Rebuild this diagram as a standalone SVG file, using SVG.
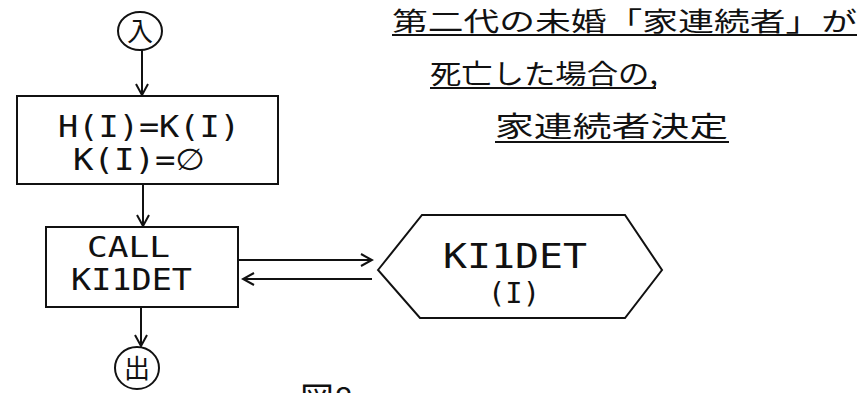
<svg xmlns="http://www.w3.org/2000/svg" width="865" height="393" viewBox="0 0 865 393">
<style>
.s{fill:none;stroke:#111;stroke-width:2}
.t{font-family:"DejaVu Sans Mono","Liberation Mono",monospace;fill:#111}
.j{font-family:"Noto Sans CJK JP","Noto Sans CJK SC",sans-serif;fill:#111}
.u{stroke:#111;stroke-width:2}
</style>
<defs>
<marker id="a" markerWidth="14" markerHeight="14" refX="12" refY="7" orient="auto" markerUnits="userSpaceOnUse">
<polyline points="1,1 12,7 1,13" fill="none" stroke="#111" stroke-width="2"/>
</marker>
</defs>
<rect width="865" height="393" fill="#fff"/>
<g id="title">
<text class="j" x="392" y="31" font-size="26" textLength="465" lengthAdjust="spacingAndGlyphs">第二代の未婚「家連続者」が</text>
<line class="u" x1="392" y1="35" x2="857" y2="35"/>
<text class="j" x="430" y="84" font-size="27" textLength="228" lengthAdjust="spacingAndGlyphs">死亡した場合の,</text>
<line class="u" x1="430" y1="88" x2="656" y2="88"/>
<text class="j" x="495" y="137" font-size="28" textLength="233" lengthAdjust="spacingAndGlyphs">家連続者決定</text>
<line class="u" x1="495" y1="142" x2="729" y2="142"/>
</g>
<g id="start">
<ellipse class="s" cx="140" cy="31" rx="22" ry="19"/>
<text class="j" x="140" y="41" font-size="26" text-anchor="middle">入</text>
</g>
<g id="assign">
<rect class="s" x="17" y="96" width="261" height="88"/>
<text class="t" x="58" y="137" font-size="30" textLength="182" lengthAdjust="spacingAndGlyphs">H(I)=K(I)</text>
<text class="t" x="73" y="170" font-size="30" textLength="132" lengthAdjust="spacingAndGlyphs">K(I)=<tspan font-family="DejaVu Sans,sans-serif" font-size="30">∅</tspan></text>
</g>
<g id="call">
<rect class="s" x="46" y="227" width="192" height="80"/>
<text class="t" x="87" y="257" font-size="28" textLength="83" lengthAdjust="spacingAndGlyphs">CALL</text>
<text class="t" x="71" y="290" font-size="30" textLength="121" lengthAdjust="spacingAndGlyphs">KI1DET</text>
</g>
<g id="sub">
<polygon class="s" points="378,270 422,215 625,215 662,270 625,318 420,318"/>
<text class="t" x="443" y="268" font-size="34" textLength="144" lengthAdjust="spacingAndGlyphs">KI1DET</text>
<text class="t" x="488" y="303" font-size="28" textLength="52" lengthAdjust="spacingAndGlyphs">(I)</text>
</g>
<g id="end">
<ellipse class="s" cx="137" cy="368" rx="22" ry="21"/>
<text class="j" x="137" y="378" font-size="26" text-anchor="middle">出</text>
</g>
<g id="connectors">
<line class="s" x1="142" y1="50" x2="142" y2="95" marker-end="url(#a)"/>
<line class="s" x1="143" y1="184" x2="143" y2="226" marker-end="url(#a)"/>
<line class="s" x1="141" y1="307" x2="141" y2="346" marker-end="url(#a)"/>
<line class="s" x1="238" y1="260" x2="372" y2="260" marker-end="url(#a)"/>
<line class="s" x1="372" y1="279" x2="243" y2="279" marker-end="url(#a)"/>
</g>
<g id="caption">
<text class="j" x="300" y="412" font-size="34">図8</text>
</g>
</svg>
